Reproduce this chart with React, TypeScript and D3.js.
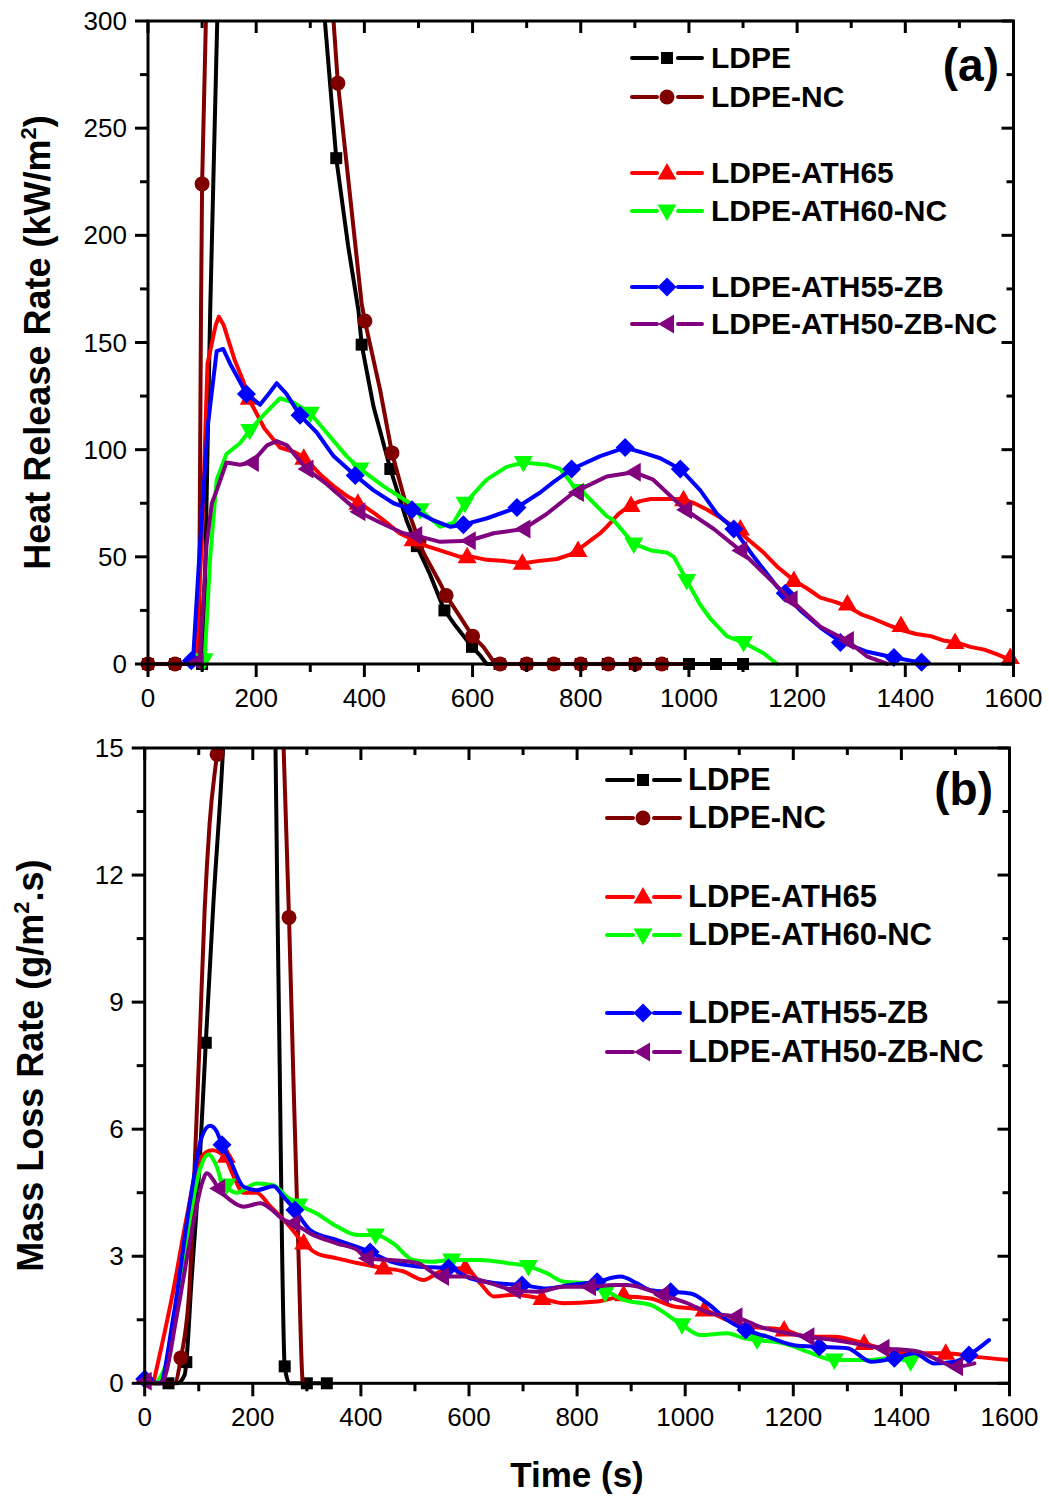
import React from 'react';
import * as d3 from 'd3';

type Pt = [number, number];

// ---------- shared ----------
const seriesNames = ['LDPE', 'LDPE-NC', 'LDPE-ATH65', 'LDPE-ATH60-NC', 'LDPE-ATH55-ZB', 'LDPE-ATH50-ZB-NC'];
const seriesColors = ['#000000', '#800000', '#ff0000', '#00ff00', '#0000ff', '#800080'];
const seriesSymbols = ['square', 'circle', 'triUp', 'triDown', 'diamond', 'triLeft'];

const timeTicks = [0, 200, 400, 600, 800, 1000, 1200, 1400, 1600];
const timeMinor = [100, 300, 500, 700, 900, 1100, 1300, 1500];
const hrrTicks = [0, 50, 100, 150, 200, 250, 300];
const hrrMinor = [25, 75, 125, 175, 225, 275];
const mlrTicks = [0, 3, 6, 9, 12, 15];
const mlrMinor = [1.5, 4.5, 7.5, 10.5, 13.5];

// ---------- (a) Heat release rate ----------
const hrrLDPE: Pt[] = [[0, 0], [100, 0], [104, 20], [115, 165], [128, 300], [200, 650], [300, 650], [327, 300], [348, 236], [370, 195], [389, 165], [395, 149], [417, 120], [448, 91], [478, 67], [497, 55], [521, 42], [548, 25], [571, 17], [599, 8], [614, 4], [626, 0], [1100, 0]];
const hrrLDPEMarks: Pt[] = [[0, 0], [50, 0], [100, 0], [348, 236], [395, 149], [448, 91], [497, 55], [548, 25], [599, 8], [650, 0], [700, 0], [750, 0], [800, 0], [850, 0], [900, 0], [950, 0], [1000, 0], [1050, 0], [1100, 0]];

const hrrNC: Pt[] = [[0, 0], [94, 0], [98, 165], [100, 224], [107, 300], [180, 700], [300, 700], [343, 300], [351, 271], [375, 215], [395, 168], [401, 160], [429, 128], [451, 98.5], [478, 73.5], [509, 52], [540, 37.7], [551, 32], [577, 22], [600, 13], [620, 8], [642, 0], [1000, 0]];
const hrrNCMarks: Pt[] = [[0, 0], [50, 0], [100, 224], [351, 271], [401, 160], [451, 98.5], [501, 57], [551, 32], [600, 13], [651, 0], [700, 0], [750, 0], [800, 0], [851, 0], [901, 0], [950, 0]];

const hrrATH65: Pt[] = [[88, 0], [100, 60], [110, 140], [125, 158], [131, 162], [140, 158], [160, 142], [176, 132], [190, 122], [215, 110], [244, 101], [270, 99], [290, 96], [320, 88], [343, 83], [370, 78], [392, 75], [420, 70], [441, 66], [465, 61], [490, 58], [515, 55], [540, 53], [577, 50], [600, 50], [626, 48.6], [660, 48], [694, 47], [720, 48], [756, 49], [780, 51], [799, 54], [820, 58], [836, 61], [848, 64], [870, 70], [891, 74], [910, 76], [929, 77], [960, 77], [984, 77], [1010, 75], [1034, 72], [1060, 68], [1083, 64], [1110, 58], [1138, 52], [1165, 45], [1194, 39], [1220, 35], [1243, 31], [1270, 29], [1292, 27], [1320, 23], [1342, 21], [1370, 18], [1391, 16], [1420, 14], [1447, 13], [1470, 11], [1496, 10], [1520, 8], [1546, 6.7], [1570, 4.5], [1598, 1.5]];
const hrrATH65Marks: Pt[] = [[187, 124], [288, 96], [388, 75], [490, 58], [590, 50], [692, 47], [795, 53], [893, 74], [990, 76.6], [1095, 63], [1194, 39], [1293, 28], [1392, 18], [1492, 10], [1594, 3]];

const hrrATH60: Pt[] = [[100, 0], [105, 3], [115, 50], [127, 86], [145, 98], [170, 103], [188, 109], [213, 116], [244, 124], [269, 122], [300, 117], [330, 108], [367, 97], [392, 91], [435, 83], [472, 77], [503, 72], [540, 64], [565, 66], [586, 75], [626, 86], [663, 92], [694, 94], [737, 93], [762, 91], [787, 83], [805, 80], [848, 69], [861, 67], [898, 56], [930, 53], [959, 52], [972, 50], [996, 39], [1020, 28], [1040, 21], [1070, 13], [1101, 10], [1138, 5], [1163, 0]];
const hrrATH60Marks: Pt[] = [[104, 2], [188, 109], [300, 117], [392, 91], [503, 72], [586, 75], [694, 94], [797, 81], [898, 56], [996, 39], [1101, 10]];

const hrrATH55: Pt[] = [[78, 0], [84, 5], [96, 55], [110, 110], [127, 146], [139, 147], [152, 140], [165, 134], [182, 126], [207, 121], [220, 125], [238, 131], [256, 126], [281, 116], [312, 108], [343, 97], [383, 88], [417, 81], [454, 75], [488, 72], [528, 67], [559, 64], [583, 65], [627, 68], [682, 73], [725, 80], [750, 85], [784, 91], [836, 97], [882, 101], [922, 98], [947, 96], [984, 91], [1021, 81], [1052, 70], [1083, 63], [1120, 50], [1163, 36], [1206, 25], [1243, 17], [1280, 10.4], [1330, 5.7], [1379, 3], [1422, 1], [1441, 0]];
const hrrATH55Marks: Pt[] = [[80, 1.5], [182, 126], [281, 116], [383, 88], [488, 72], [583, 65], [682, 73], [783, 91], [882, 101], [984, 91], [1083, 63], [1178, 33], [1280, 10], [1379, 3], [1430, 0.8]];

const hrrATH50: Pt[] = [[88, 0], [96, 2], [108, 55], [118, 75], [127, 81], [145, 94], [170, 93], [192, 94], [220, 102], [238, 104], [257, 102], [293, 91], [330, 84], [389, 71], [429, 66], [472, 61], [494, 60], [540, 57], [593, 57.5], [639, 61], [694, 63], [737, 70], [787, 80], [836, 86], [848, 87.5], [898, 89.5], [934, 86], [993, 72], [1046, 63], [1095, 53], [1144, 41], [1188, 30], [1243, 17.4], [1292, 11], [1330, 3.4], [1367, 0]];
const hrrATH50Marks: Pt[] = [[90, 1], [192, 94], [293, 91], [389, 71], [494, 60], [593, 57.5], [694, 63], [793, 80], [898, 89.5], [993, 72], [1095, 53], [1188, 30], [1292, 11]];

// ---------- (b) Mass loss rate ----------
const mlrLDPE: Pt[] = [[0, 0], [60, 0], [74, 0.2], [77, 0.5], [86, 2.3], [102, 5.3], [113, 8.04], [126.5, 11.2], [145, 15], [185, 30], [215, 30], [242, 15], [245.7, 11.2], [250, 7.25], [254, 3.3], [259, 0.4], [268, 0], [337, 0]];
const mlrLDPEMarks: Pt[] = [[44, 0], [77, 0.5], [113, 8.04], [259, 0.4], [300, 0], [337, 0]];

const mlrNC: Pt[] = [[0, 0], [55, 0], [67, 0.6], [83, 2.3], [93, 5.3], [102, 8.2], [111, 11.2], [120, 13.2], [134, 14.9], [150, 17], [180, 20], [230, 20], [250, 17], [257, 15], [267, 11], [275, 7.25], [284, 3.3], [293, 0], [300, 0]];
const mlrNCMarks: Pt[] = [[67, 0.6], [134, 14.85], [267, 11]];

const mlrATH65: Pt[] = [[16, 0], [53, 2.2], [78, 3.94], [102, 5.3], [125, 5.5], [148, 5.35], [164, 4.9], [183, 4.5], [207, 4.5], [232, 4.18], [263, 3.78], [294, 3.31], [318, 3.07], [356, 2.95], [393, 2.84], [442, 2.72], [479, 2.64], [516, 2.44], [547, 2.64], [593, 2.72], [621, 2.36], [646, 2.05], [683, 2.09], [735, 2.0], [775, 1.89], [837, 1.93], [886, 2.05], [936, 2.0], [980, 1.81], [1010, 1.77], [1035, 1.73], [1078, 1.49], [1128, 1.33], [1183, 1.26], [1226, 1.1], [1276, 1.1], [1331, 0.94], [1387, 0.75], [1436, 0.71], [1482, 0.71], [1535, 0.63], [1600, 0.55]];
const mlrATH65Marks: Pt[] = [[151, 5.36], [294, 3.31], [442, 2.72], [593, 2.72], [735, 2.0], [886, 2.09], [1035, 1.73], [1183, 1.26], [1331, 0.94], [1482, 0.71]];

const mlrATH60: Pt[] = [[22, 0], [47, 0.79], [78, 3.46], [102, 5.04], [118, 5.4], [133, 5.12], [146, 4.64], [152, 4.6], [170, 4.5], [207, 4.72], [238, 4.68], [263, 4.4], [285, 4.21], [318, 4.01], [356, 3.7], [393, 3.5], [427, 3.5], [460, 3.3], [497, 2.91], [528, 2.87], [568, 2.91], [621, 2.91], [670, 2.84], [710, 2.76], [744, 2.6], [775, 2.4], [825, 2.36], [852, 2.2], [886, 1.97], [936, 1.85], [994, 1.38], [1028, 1.14], [1078, 1.18], [1109, 1.06], [1133, 1.02], [1183, 0.94], [1226, 0.75], [1276, 0.55], [1337, 0.55], [1380, 0.59], [1417, 0.51]];
const mlrATH60Marks: Pt[] = [[152, 4.68], [285, 4.21], [427, 3.5], [568, 2.91], [710, 2.76], [852, 2.13], [994, 1.38], [1133, 1.02], [1276, 0.55], [1417, 0.51]];

const mlrATH55: Pt[] = [[0, 0.1], [28, 0], [53, 1.57], [84, 4.3], [106, 5.83], [121, 6.08], [133, 5.95], [143, 5.63], [158, 5.27], [183, 4.64], [207, 4.56], [238, 4.65], [257, 4.4], [278, 4.09], [306, 3.62], [356, 3.38], [393, 3.22], [417, 3.1], [454, 2.88], [504, 2.76], [562, 2.72], [602, 2.48], [652, 2.36], [698, 2.32], [744, 2.24], [787, 2.32], [837, 2.4], [880, 2.52], [911, 2.36], [936, 2.2], [973, 2.16], [1010, 2.12], [1041, 1.89], [1078, 1.49], [1112, 1.26], [1152, 1.1], [1201, 0.9], [1248, 0.86], [1300, 0.83], [1344, 0.51], [1387, 0.59], [1424, 0.71], [1461, 0.47], [1498, 0.51], [1525, 0.67], [1562, 1.02]];
const mlrATH55Marks: Pt[] = [[0, 0.1], [143, 5.63], [278, 4.09], [417, 3.1], [562, 2.72], [698, 2.32], [837, 2.4], [973, 2.16], [1112, 1.26], [1248, 0.86], [1387, 0.59], [1525, 0.67]];

const mlrATH50: Pt[] = [[0, 0.05], [25, 0], [35, 0.08], [59, 1.57], [90, 3.78], [106, 4.72], [115, 4.96], [127, 4.8], [136, 4.6], [158, 4.33], [183, 4.17], [214, 4.25], [232, 4.13], [257, 3.86], [275, 3.78], [306, 3.54], [356, 3.3], [393, 3.15], [411, 2.95], [454, 2.91], [504, 2.84], [550, 2.52], [590, 2.52], [640, 2.36], [683, 2.2], [726, 2.16], [775, 2.28], [822, 2.28], [868, 2.32], [893, 2.32], [957, 2.09], [1004, 1.89], [1047, 1.65], [1093, 1.57], [1139, 1.33], [1189, 1.18], [1226, 1.1], [1276, 1.02], [1365, 0.83], [1430, 0.75], [1461, 0.59], [1501, 0.39], [1535, 0.47]];
const mlrATH50Marks: Pt[] = [[0, 0.05], [136, 4.6], [275, 3.78], [411, 2.95], [550, 2.52], [683, 2.2], [822, 2.28], [957, 2.09], [1093, 1.57], [1226, 1.1], [1365, 0.83], [1501, 0.39]];

const hrrLines = [hrrLDPE, hrrNC, hrrATH65, hrrATH60, hrrATH55, hrrATH50];
const hrrMarks = [hrrLDPEMarks, hrrNCMarks, hrrATH65Marks, hrrATH60Marks, hrrATH55Marks, hrrATH50Marks];
const mlrLines = [mlrLDPE, mlrNC, mlrATH65, mlrATH60, mlrATH55, mlrATH50];
const mlrMarks = [mlrLDPEMarks, mlrNCMarks, mlrATH65Marks, mlrATH60Marks, mlrATH55Marks, mlrATH50Marks];

// ---------- drawing ----------
const FONT = "'Liberation Sans', Arial, Helvetica, sans-serif";

function markerPath(kind: string): string {
  switch (kind) {
    case 'square': return 'M-6,-6h12v12h-12Z';
    case 'circle': return 'M7.5,0A7.5,7.5 0 1,1 -7.5,0A7.5,7.5 0 1,1 7.5,0Z';
    case 'triUp': return 'M0,-10L9.5,6.5L-9.5,6.5Z';
    case 'triDown': return 'M0,10L9.5,-6.5L-9.5,-6.5Z';
    case 'diamond': return 'M0,-9.5L9.5,0L0,9.5L-9.5,0Z';
    case 'triLeft': return 'M-9,0L7,-9.5L7,9.5Z';
    default: return '';
  }
}

interface PanelProps {
  id: string;
  left: number; right: number; top: number; bottom: number;
  yMax: number; yTicks: number[]; yMinor: number[];
  lines: Pt[][]; marks: Pt[][];
  smooth: boolean;
  label: string; labelX: number; labelY: number;
  legX1: number; legMark: number; legX2: number; legText: number; legRows: number[]; legFont: number;
  yTitle: React.ReactNode; yTitleX: number;
}

function Panel(p: PanelProps) {
  const x = d3.scaleLinear().domain([0, 1600]).range([p.left, p.right]);
  const y = d3.scaleLinear().domain([0, p.yMax]).range([p.bottom, p.top]);
  const line = d3.line<Pt>().x(d => x(d[0])).y(d => y(d[1]))
    .curve(p.smooth ? d3.curveMonotoneX : d3.curveLinear);
  const MAJ = 12, MIN = 7;
  const yCenter = (p.top + p.bottom) / 2;
  return (
    <g>
      <defs>
        <clipPath id={p.id}>
          <rect x={p.left} y={p.top} width={p.right - p.left} height={p.bottom - p.top + 4} />
        </clipPath>
      </defs>
      {p.lines.map((pts, i) => (
        <g key={i}>
          <path d={line(pts) || ''} fill="none" stroke={seriesColors[i]} strokeWidth={4}
            strokeLinejoin="round" strokeLinecap="round" clipPath={`url(#${p.id})`} />
          {p.marks[i].map((m, j) => (
            <path key={j} d={markerPath(seriesSymbols[i])} fill={seriesColors[i]}
              transform={`translate(${x(m[0])},${y(m[1])})`} />
          ))}
        </g>
      ))}
      <rect x={p.left} y={p.top} width={p.right - p.left} height={p.bottom - p.top}
        fill="none" stroke="#000" strokeWidth={3} />
      {timeTicks.map(t => (
        <g key={'xt' + t}>
          <line x1={x(t)} x2={x(t)} y1={p.bottom} y2={p.bottom + MAJ + 1} stroke="#000" strokeWidth={3} />
          <line x1={x(t)} x2={x(t)} y1={p.top} y2={p.top + MAJ} stroke="#000" strokeWidth={3} />
          <text x={x(t)} y={p.bottom + 43} textAnchor="middle" fontFamily={FONT} fontSize={26}>{t}</text>
        </g>
      ))}
      {timeMinor.map(t => (
        <g key={'xm' + t}>
          <line x1={x(t)} x2={x(t)} y1={p.bottom} y2={p.bottom + MIN + 1} stroke="#000" strokeWidth={3} />
          <line x1={x(t)} x2={x(t)} y1={p.top} y2={p.top + MIN} stroke="#000" strokeWidth={3} />
        </g>
      ))}
      {p.yTicks.map(v => (
        <g key={'yt' + v}>
          <line x1={p.left - MAJ - 1} x2={p.left} y1={y(v)} y2={y(v)} stroke="#000" strokeWidth={3} />
          <line x1={p.right - MAJ} x2={p.right} y1={y(v)} y2={y(v)} stroke="#000" strokeWidth={3} />
          <text x={p.left - 21} y={y(v) + 9} textAnchor="end" fontFamily={FONT} fontSize={26}>{v}</text>
        </g>
      ))}
      {p.yMinor.map(v => (
        <g key={'ym' + v}>
          <line x1={p.left - MIN - 1} x2={p.left} y1={y(v)} y2={y(v)} stroke="#000" strokeWidth={3} />
          <line x1={p.right - MIN} x2={p.right} y1={y(v)} y2={y(v)} stroke="#000" strokeWidth={3} />
        </g>
      ))}
      <text transform={`translate(${p.yTitleX},${yCenter}) rotate(-90)`} textAnchor="middle"
        fontFamily={FONT} fontWeight="bold" fontSize={36}>{p.yTitle}</text>
      <text x={p.labelX} y={p.labelY} textAnchor="end" fontFamily={FONT} fontWeight="bold" fontSize={46}>{p.label}</text>
      {seriesNames.map((name, i) => {
        const ry = p.legRows[i];
        return (
          <g key={'lg' + i}>
            <line x1={p.legX1} x2={p.legMark - 10} y1={ry} y2={ry} stroke={seriesColors[i]} strokeWidth={4} strokeLinecap="round" />
            <line x1={p.legMark + 11} x2={p.legX2} y1={ry} y2={ry} stroke={seriesColors[i]} strokeWidth={4} strokeLinecap="round" />
            <path d={markerPath(seriesSymbols[i])} fill={seriesColors[i]} transform={`translate(${p.legMark},${ry})`} />
            <text x={p.legText} y={ry + 10} fontFamily={FONT} fontWeight="bold" fontSize={p.legFont}>{name}</text>
          </g>
        );
      })}
    </g>
  );
}

export default function App() {
  return (
    <svg width={1049} height={1497} viewBox="0 0 1049 1497"
      style={{ position: 'absolute', left: 0, top: 0, background: '#fff' }}>
      <rect x={0} y={0} width={1049} height={1497} fill="#fff" />
      <Panel id="clipA" left={148} right={1013.5} top={21} bottom={664}
        yMax={300} yTicks={hrrTicks} yMinor={hrrMinor}
        lines={hrrLines} marks={hrrMarks} smooth={false}
        label="(a)" labelX={999} labelY={81}
        legX1={632} legMark={667} legX2={702} legText={711} legRows={[58, 97, 173, 211, 287, 324]} legFont={30}
        yTitle={<>Heat Release Rate (kW/m<tspan fontSize={22} dy={-14}>2</tspan><tspan dy={14}>)</tspan></>}
        yTitleX={50} />
      <Panel id="clipB" left={144.7} right={1009.5} top={748} bottom={1383.3}
        yMax={15} yTicks={mlrTicks} yMinor={mlrMinor}
        lines={mlrLines} marks={mlrMarks} smooth={true}
        label="(b)" labelX={993} labelY={805}
        legX1={607} legMark={643} legX2={680} legText={688} legRows={[780, 818, 897, 935, 1013, 1052]} legFont={31}
        yTitle={<>Mass Loss Rate (g/m<tspan fontSize={22} dy={-14}>2</tspan><tspan dy={14}>.s)</tspan></>}
        yTitleX={43} />
      <text x={577} y={1487} textAnchor="middle" fontFamily={FONT} fontWeight="bold" fontSize={35}>Time (s)</text>
    </svg>
  );
}
